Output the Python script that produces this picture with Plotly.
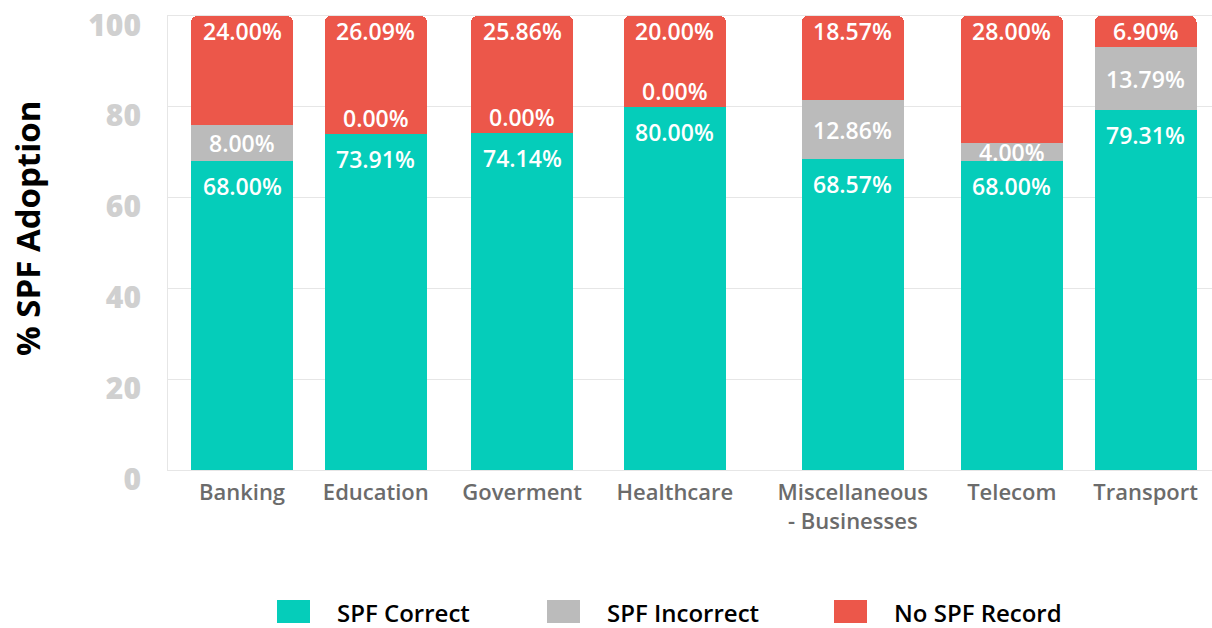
import plotly.graph_objects as go

# ---- data -------------------------------------------------------------
categories = ["Banking", "Education", "Goverment", "Healthcare",
              "Miscellaneous - Businesses", "Telecom", "Transport"]
tick_labels = ["Banking", "Education", "Goverment", "Healthcare",
               "Miscellaneous<br>- Businesses", "Telecom", "Transport"]
series_names = ["SPF Correct", "SPF Incorrect", "No SPF Record"]
spf_correct = [68.00, 73.91, 74.14, 80.00, 68.57, 68.00, 79.31]
spf_incorrect = [8.00, 0.00, 0.00, 0.00, 12.86, 4.00, 13.79]
no_spf_record = [24.00, 26.09, 25.86, 20.00, 18.57, 28.00, 6.90]
y_ticks = [0, 20, 40, 60, 80, 100]

# ---- styling ----------------------------------------------------------
GREEN, GREY, RED = "#05CDBA", "#BBBBBB", "#EC574A"
colors = [GREEN, GREY, RED]
LABEL_FONT = dict(family="Open Sans", size=23, color="white", weight=600)

W, H = 1212, 628
M_L, M_R, M_T, M_B = 168, 0, 16, 158
plot_w = W - M_L - M_R          # x axis is measured in screen pixels
plot_h = H - M_T - M_B

# category slots are spaced by the width of their labels
CHAR_W, LABEL_GAP, FIRST_CENTER, BAR_W = 12.6, 33, 74, 102
label_w = [max(len(s) for s in lab.split("<br>")) * CHAR_W for lab in tick_labels]
centers = [FIRST_CENTER]
for i in range(1, len(label_w)):
    centers.append(centers[-1] + (label_w[i - 1] + label_w[i]) / 2 + LABEL_GAP)


def paper_x(px):
    return (px - M_L) / plot_w


def paper_y(py):
    return (H - M_B - py) / plot_h


fig = go.Figure()
for name, vals, col in zip(series_names, [spf_correct, spf_incorrect, no_spf_record], colors):
    fig.add_trace(go.Bar(
        x=centers, y=vals, name=name, width=BAR_W,
        marker=dict(color=col, line=dict(width=0)),
        customdata=categories, showlegend=False,
        hovertemplate="%{customdata}<br>" + name + ": %{y:.2f}%<extra></extra>",
    ))

# value labels inside the stacked segments
annotations = []
for i, xc in enumerate(centers):
    g, s, r = spf_correct[i], spf_incorrect[i], no_spf_record[i]
    annotations.append(dict(x=xc, y=g, text=f"{g:.2f}%", yanchor="top", yshift=-7))
    if s > 0:
        annotations.append(dict(x=xc, y=g + s / 2, text=f"{s:.2f}%", yanchor="middle"))
    else:
        annotations.append(dict(x=xc, y=g, text=f"{s:.2f}%", yanchor="bottom", yshift=-2))
    annotations.append(dict(x=xc, y=g + s + r, text=f"{r:.2f}%", yanchor="top", yshift=3))
for a in annotations:
    a.update(xref="x", yref="y", showarrow=False, xanchor="center", font=LABEL_FONT)

# y axis title
annotations.append(dict(
    xref="paper", yref="paper", x=paper_x(27), y=paper_y(229),
    text="% SPF Adoption", textangle=-90, showarrow=False,
    xanchor="center", yanchor="middle",
    font=dict(family="Open Sans", size=33, color="black", weight=700),
))

# legend drawn as swatches with text
legend_x = [277, 547, 834]
shapes = []
for name, col, lx in zip(series_names, colors, legend_x):
    shapes.append(dict(type="rect", xref="paper", yref="paper",
                       x0=paper_x(lx), x1=paper_x(lx + 33),
                       y0=paper_y(623), y1=paper_y(600),
                       fillcolor=col, line=dict(width=0)))
    annotations.append(dict(
        xref="paper", yref="paper", x=paper_x(lx + 58), y=paper_y(612),
        text=name, showarrow=False, xanchor="left", yanchor="middle",
        font=dict(family="Open Sans", size=24, color="black", weight=600),
    ))

fig.update_layout(
    width=W, height=H,
    margin=dict(l=M_L, r=M_R, t=M_T, b=M_B, autoexpand=False),
    barmode="stack", barcornerradius=6,
    plot_bgcolor="white", paper_bgcolor="white",
    annotations=annotations, shapes=shapes,
    xaxis=dict(range=[0, plot_w], tickmode="array", tickvals=centers,
               ticktext=tick_labels, showgrid=False, zeroline=False,
               showline=True, mirror=True, linecolor="#E6E6E6", linewidth=1,
               ticks="", ticklabelstandoff=3,
               tickfont=dict(family="Open Sans", size=22, color="#6B6B6B", weight=600)),
    yaxis=dict(range=[0, 100], tickmode="array", tickvals=y_ticks,
               showgrid=True, gridcolor="#E6E6E6", gridwidth=1,
               zeroline=False, showline=True, linecolor="#E6E6E6", linewidth=1,
               ticks="", ticklabelshift=9, ticklabelstandoff=20,
               tickfont=dict(family="Open Sans", size=30, color="#D0D0D0", weight=800)),
    font=dict(family="Open Sans"),
    hovermode="closest",
)

fig.write_html("out.html")
